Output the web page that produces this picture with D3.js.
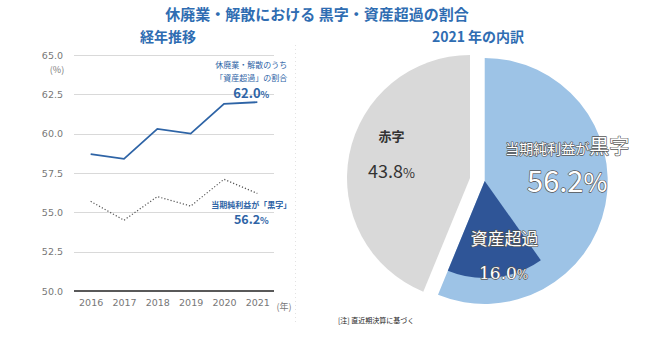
<!DOCTYPE html>
<html>
<head>
  <meta charset="utf-8">
  <style>
    body { margin: 0; background: #fff; }
    svg { font-family: "Noto Sans CJK JP", "Noto Sans", sans-serif; }
    .grid line { stroke: #d9d9d9; shape-rendering: crispEdges; }
    .tick text { fill: #777; }
  </style>
  <script src="https://d3js.org/d3.v7.min.js"></script>
</head>
<body>
  <script>
    // line chart data
    var years = ["2016", "2017", "2018", "2019", "2020", "2021"];
    var shisanRate = [58.7, 58.4, 60.3, 60.0, 61.9, 62.0];   // 資産超過の割合
    var kuroRate = [55.7, 54.5, 56.0, 55.4, 57.1, 56.2];     // 黒字の割合
    var yTicks = [50, 52.5, 55, 57.5, 60, 62.5, 65];

    // pie data (2021)
    var pieNames = ["当期純利益が", "赤字"];
    var pieValues = [56.2, 43.8];
    var shisanShare = 16.0;

    var BLUE = "#2e64a6";
    var TITLE = "#2f6db2";

    var svg = d3.select("body").append("svg")
      .attr("width", 650)
      .attr("height", 343);

    // titles
    svg.append("text").attr("x", 317).attr("y", 20)
      .attr("text-anchor", "middle").attr("font-size", 15).attr("font-weight", "bold")
      .attr("fill", TITLE).text("休廃業・解散における 黒字・資産超過の割合");
    svg.append("text").attr("x", 168).attr("y", 42)
      .attr("text-anchor", "middle").attr("font-size", 14).attr("font-weight", "bold")
      .attr("fill", TITLE).text("経年推移");
    svg.append("text").attr("x", 478).attr("y", 42)
      .attr("text-anchor", "middle").attr("font-size", 14).attr("font-weight", "bold")
      .attr("fill", TITLE).text("2021 年の内訳");

    // ---- line chart ----
    var x = d3.scalePoint().domain(years).range([74, 274]).padding(0.5);
    var y = d3.scaleLinear().domain([50, 65]).range([291, 55]);

    var grid = svg.append("g").attr("class", "grid");
    grid.selectAll("line").data(yTicks.slice(1)).enter().append("line")
      .attr("x1", 74).attr("x2", 274)
      .attr("y1", function(d) { return Math.round(y(d)) + 0.5; })
      .attr("y2", function(d) { return Math.round(y(d)) + 0.5; });

    svg.append("line")
      .attr("x1", 74).attr("x2", 274)
      .attr("y1", y(50)).attr("y2", y(50))
      .attr("stroke", "#595959").attr("stroke-width", 2);

    var yAxis = d3.axisLeft(y).tickValues(yTicks).tickFormat(d3.format(".1f")).tickSize(0).tickPadding(0);
    svg.append("g").attr("transform", "translate(63,0)").call(yAxis)
      .call(function(g) { g.select(".domain").remove(); })
      .selectAll("text").attr("font-size", 9.5).attr("font-family", "DejaVu Sans, sans-serif");

    var xAxis = d3.axisBottom(x).tickSize(0).tickPadding(0);
    svg.append("g").attr("transform", "translate(0,297)").call(xAxis)
      .call(function(g) { g.select(".domain").remove(); })
      .selectAll("text").attr("font-size", 9.5).attr("dy", "0.9em").attr("font-family", "DejaVu Sans, sans-serif");

    svg.append("text").attr("x", 57).attr("y", 73).attr("text-anchor", "middle")
      .attr("font-size", 9).attr("fill", "#777").text("(%)");
    svg.append("text").attr("x", 284).attr("y", 310).attr("text-anchor", "middle")
      .attr("font-size", 9).attr("fill", "#777").text("(年)");

    var line = d3.line()
      .x(function(d, i) { return x(years[i]); })
      .y(function(d) { return y(d); });

    svg.append("path").datum(shisanRate).attr("d", line)
      .attr("fill", "none").attr("stroke", BLUE).attr("stroke-width", 1.8);
    svg.append("path").datum(kuroRate).attr("d", line)
      .attr("fill", "none").attr("stroke", "#555").attr("stroke-width", 1.2)
      .attr("stroke-dasharray", "1.2,2");

    // annotations
    var lastX = x(years[years.length - 1]);
    var a1 = svg.append("g").attr("fill", BLUE).attr("text-anchor", "middle");
    a1.append("text").attr("x", lastX - 6).attr("y", y(shisanRate[5]) - 34)
      .attr("font-size", 8).text("休廃業・解散のうち");
    a1.append("text").attr("x", lastX - 6).attr("y", y(shisanRate[5]) - 21)
      .attr("font-size", 8).text("「資産超過」の割合");
    var t1 = a1.append("text").attr("x", lastX - 6).attr("y", y(shisanRate[5]) - 4)
      .attr("font-size", 13).attr("font-weight", "bold");
    t1.append("tspan").text(d3.format(".1f")(shisanRate[5]));
    t1.append("tspan").attr("font-size", 9).text("%");

    var a2 = svg.append("g").attr("fill", BLUE).attr("text-anchor", "middle");
    a2.append("text").attr("x", lastX - 6).attr("y", y(kuroRate[5]) + 15)
      .attr("font-size", 8).attr("font-weight", "bold").text("当期純利益が「黒字」");
    var t2 = a2.append("text").attr("x", lastX - 6).attr("y", y(kuroRate[5]) + 31)
      .attr("font-size", 12.5).attr("font-weight", "bold");
    t2.append("tspan").text(d3.format(".1f")(kuroRate[5]));
    t2.append("tspan").attr("font-size", 9).text("%");

    // faint separator
    svg.append("line").attr("x1", 295.5).attr("x2", 295.5).attr("y1", 45).attr("y2", 325)
      .attr("stroke", "#e2e2e2").attr("stroke-dasharray", "1,3");

    // ---- pie chart ----
    var cx = 470, cy = 178, R = 123, explode = 15;
    var pie = d3.pie().sort(null).value(function(d) { return d; });
    var arcs = pie(pieValues);
    var arc = d3.arc().innerRadius(0).outerRadius(R);
    var pieColors = ["#9dc3e6", "#d9d9d9"];

    var slices = svg.selectAll(".slice").data(arcs).enter().append("g")
      .attr("class", "slice")
      .attr("transform", function(d, i) {
        var mid = (d.startAngle + d.endAngle) / 2;
        var off = i === 0 ? explode : 0;
        return "translate(" + (cx + off * Math.sin(mid)) + "," + (cy - off * Math.cos(mid)) + ")";
      });
    slices.append("path").attr("d", arc).attr("fill", function(d, i) { return pieColors[i]; });

    // 資産超過 sub-sector inside the 黒字 slice
    var kuro = arcs[0];
    var subEnd = kuro.endAngle;
    var subStart = subEnd - shisanShare / 100 * 2 * Math.PI;
    var subArc = d3.arc().innerRadius(0).outerRadius(R * 0.79)
      .startAngle(subStart).endAngle(subEnd);
    var kuroG = d3.select(slices.nodes()[0]);
    kuroG.append("path").attr("d", subArc()).attr("fill", "#2f5597");

    // labels: 赤字
    var akaG = d3.select(slices.nodes()[1]);
    var labelArc = d3.arc().innerRadius(80).outerRadius(80);
    var c1 = labelArc.centroid(arcs[1]);
    akaG.append("text").attr("x", c1[0]).attr("y", c1[1] - 22)
      .attr("text-anchor", "middle").attr("font-size", 13).attr("font-weight", "bold")
      .attr("fill", "#333").text(pieNames[1]);
    var p1 = akaG.append("text").attr("x", c1[0]).attr("y", c1[1] + 15)
      .attr("text-anchor", "middle").attr("font-size", 18).attr("fill", "#333");
    p1.append("tspan").text(d3.format(".1f")(pieValues[1]));
    p1.append("tspan").attr("font-size", 13).text("%");

    // labels: 黒字 (outlined white text)
    function outlined(sel) {
      return sel.attr("fill", "#fff").attr("stroke", "#555").attr("stroke-width", 1.3)
        .attr("paint-order", "stroke").attr("stroke-linejoin", "round");
    }
    var c0 = labelArc.centroid(kuro);
    var k1 = outlined(kuroG.append("text").attr("x", c0[0] + 4).attr("y", c0[1] - 42)
      .attr("text-anchor", "middle").attr("font-size", 14));
    k1.append("tspan").text(pieNames[0]);
    k1.append("tspan").attr("font-size", 20).text("黒字");
    var k2 = outlined(kuroG.append("text").attr("x", c0[0] + 4).attr("y", c0[1] - 4)
      .attr("text-anchor", "middle").attr("font-size", 29));
    k2.append("tspan").text(d3.format(".1f")(pieValues[0]));
    k2.append("tspan").attr("font-size", 26).text("%");

    // labels: 資産超過
    var subLabel = d3.arc().innerRadius(70).outerRadius(70).startAngle(subStart).endAngle(subEnd);
    var c2 = subLabel.centroid();
    outlined(kuroG.append("text").attr("x", c2[0] + 12).attr("y", c2[1] - 5)
      .attr("text-anchor", "middle").attr("font-size", 17)).text("資産超過");
    var s2 = outlined(kuroG.append("text").attr("x", c2[0] + 11).attr("y", c2[1] + 29)
      .attr("text-anchor", "middle").attr("font-size", 17).attr("font-family", "DejaVu Serif, serif"));
    s2.append("tspan").text(d3.format(".1f")(shisanShare));
    s2.append("tspan").attr("font-size", 12).text("%");

    // note
    svg.append("text").attr("x", 338).attr("y", 323).attr("font-size", 7)
      .attr("fill", "#222").text("[注] 直近期決算に基づく");
  </script>
</body>
</html>
